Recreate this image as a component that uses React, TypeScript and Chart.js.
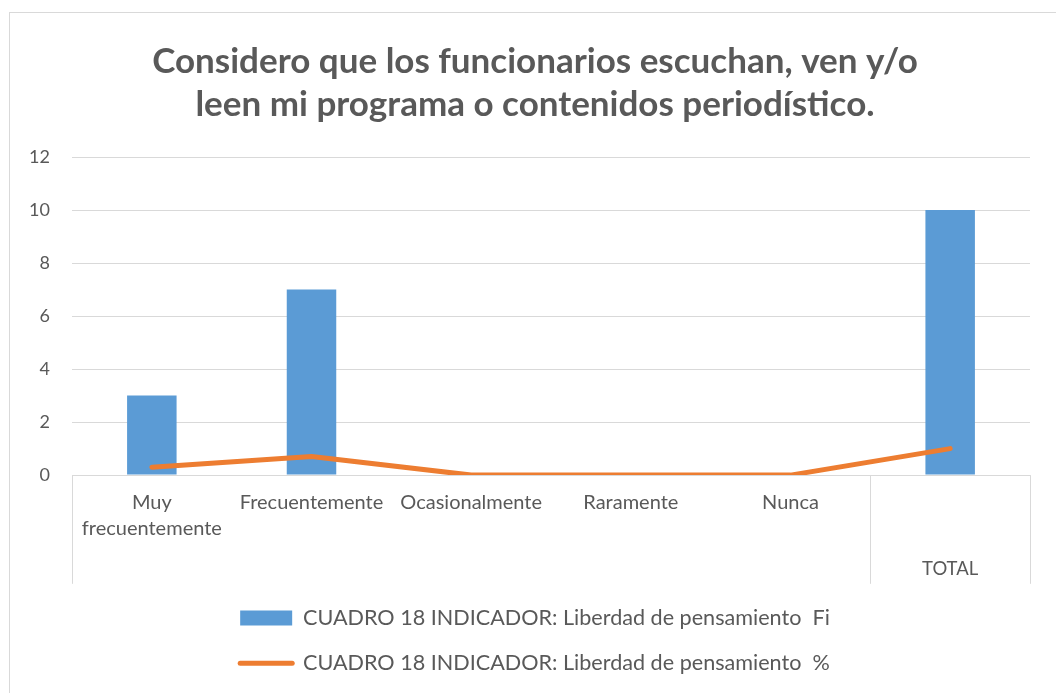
import React, { useEffect, useRef } from "react";
import { Chart, registerables } from "chart.js";

Chart.register(...registerables);

const categories: (string | string[])[] = [
  ["Muy", "frecuentemente"],
  "Frecuentemente",
  "Ocasionalmente",
  "Raramente",
  "Nunca",
  "",
];
const groupLabels = ["", "TOTAL"];
const groupSizes = [5, 1];
const fiValues = [3, 7, 0, 0, 0, 10];
const pctValues = [0.3, 0.7, 0, 0, 0, 1];
const seriesNames = [
  "CUADRO 18 INDICADOR: Liberdad de pensamiento  Fi",
  "CUADRO 18 INDICADOR: Liberdad de pensamiento  %",
];
const titleLines = [
  "Considero que los funcionarios escuchan, ven y/o",
  "leen mi programa o contenidos periodístico.",
];
const yTicks = { min: 0, max: 12, step: 2 };

const FONT = "Lato, 'Open Sans', sans-serif";
const TEXT = "#595959";
const GRID = "#d9d9d9";
const BLUE = "#5B9BD5";
const ORANGE = "#ED7D31";

const groupAxisPlugin = {
  id: "groupAxis",
  afterDraw(chart: any) {
    const x = chart.scales.x;
    const { ctx, chartArea } = chart;
    const top = chartArea.bottom;
    const bottom = x.bottom;
    const n = categories.length;
    const boundary = (i: number) => {
      if (i <= 0) return chartArea.left;
      if (i >= n) return chartArea.right;
      return (x.getPixelForValue(i - 1) + x.getPixelForValue(i)) / 2;
    };
    ctx.save();
    ctx.strokeStyle = GRID;
    ctx.lineWidth = 1;
    let start = 0;
    const edges = [0];
    groupSizes.forEach((s) => {
      start += s;
      edges.push(start);
    });
    edges.forEach((e) => {
      const px = Math.round(boundary(e)) + 0.5;
      ctx.beginPath();
      ctx.moveTo(px, top);
      ctx.lineTo(px, bottom);
      ctx.stroke();
    });
    ctx.fillStyle = TEXT;
    ctx.font = `18.5px ${FONT}`;
    ctx.textAlign = "center";
    ctx.textBaseline = "middle";
    groupLabels.forEach((lab, gi) => {
      if (!lab) return;
      const a = boundary(edges[gi]);
      const b = boundary(edges[gi + 1]);
      ctx.fillText(lab, (a + b) / 2, top + 94);
    });
    ctx.restore();
  },
};

export default function App() {
  const ref = useRef<HTMLCanvasElement | null>(null);
  useEffect(() => {
    if (!ref.current) return;
    const chart = new Chart(ref.current, {
      type: "bar",
      data: {
        labels: categories,
        datasets: [
          {
            type: "bar",
            label: seriesNames[0],
            data: fiValues,
            backgroundColor: BLUE,
            barPercentage: 0.62,
            categoryPercentage: 0.5,
            order: 2,
          },
          {
            type: "line",
            label: seriesNames[1],
            data: pctValues,
            borderColor: ORANGE,
            backgroundColor: ORANGE,
            borderWidth: 5,
            pointRadius: 0,
            tension: 0,
            borderCapStyle: "round",
            borderJoinStyle: "round",
            order: 1,
          } as any,
        ],
      },
      options: {
        animation: false,
        responsive: false,
        maintainAspectRatio: false,
        layout: { padding: { left: 10, right: 20, top: 0, bottom: 9 } },
        plugins: {
          title: {
            display: true,
            text: titleLines,
            color: TEXT,
            font: { family: FONT, size: 35, weight: "bold", lineHeight: 43 / 35 },
            padding: { top: 27, bottom: 31 },
          },
          legend: {
            position: "bottom",
            labels: {
              usePointStyle: true,
              pointStyleWidth: 52,
              boxHeight: 15,
              padding: 23.5,
              color: TEXT,
              font: { family: FONT, size: 21.6 },
              sort: (a: any, b: any) => a.datasetIndex - b.datasetIndex,
              generateLabels: (chart: any) =>
                chart.data.datasets.map((ds: any, i: number) => ({
                  text: ds.label,
                  datasetIndex: i,
                  fillStyle: i === 0 ? BLUE : ORANGE,
                  strokeStyle: i === 0 ? BLUE : ORANGE,
                  lineWidth: i === 0 ? 0 : 5,
                  lineCap: "round",
                  pointStyle: i === 0 ? "rect" : "line",
                  fontColor: TEXT,
                  hidden: false,
                })),
            },
          },
          tooltip: { enabled: false },
        },
        scales: {
          x: {
            grid: { display: false, drawTicks: false },
            border: { display: false },
            ticks: {
              color: TEXT,
              font: { family: FONT, size: 20, lineHeight: 26 / 20 },
              padding: 14,
              maxRotation: 0,
              autoSkip: false,
            },
            afterFit: (s: any) => {
              s.height = 108.7;
            },
          },
          y: {
            min: yTicks.min,
            max: yTicks.max,
            grid: { color: GRID, lineWidth: 1, drawTicks: false },
            border: { display: false },
            ticks: {
              stepSize: yTicks.step,
              color: TEXT,
              font: { family: FONT, size: 18 },
              padding: 22,
            },
            afterFit: (s: any) => {
              s.width = 52;
            },
          },
          ySpacer: {
            type: "linear",
            position: "right",
            display: true,
            grid: { display: false, drawTicks: false },
            border: { display: false },
            ticks: { display: false },
            afterFit: (s: any) => {
              s.width = 20;
            },
          },
        },
      },
      plugins: [groupAxisPlugin],
    });
    return () => chart.destroy();
  }, []);

  return (
    <div
      style={{
        position: "fixed",
        left: 0,
        top: 0,
        width: 1056,
        height: 693,
        overflow: "hidden",
        background: "#fff",
      }}
    >
      <div
        style={{
          position: "absolute",
          left: 9,
          top: 12,
          width: 1070,
          height: 700,
          border: "1px solid #d9d9d9",
          boxSizing: "border-box",
        }}
      />
      <canvas
        ref={ref}
        width={1060}
        height={680}
        style={{ position: "absolute", left: 10, top: 13, width: 1060, height: 680 }}
      />
    </div>
  );
}
